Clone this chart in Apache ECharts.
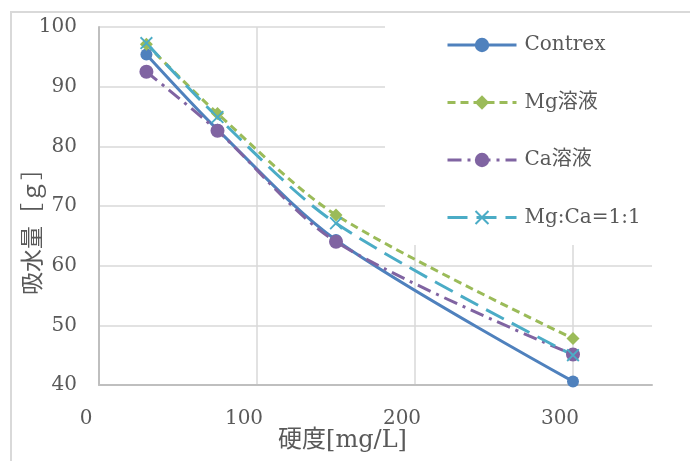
<!DOCTYPE html>
<html>
<head>
<meta charset="utf-8">
<script src="https://cdn.jsdelivr.net/npm/echarts@6/dist/echarts.min.js"></script>
<style>
  html, body { margin: 0; padding: 0; background: #fff; }
  #chart { width: 690px; height: 461px; }
</style>
</head>
<body>
<div id="chart"></div>
<script>
// 硬度 (mg/L) of each test solution
const hardness = [30, 75, 150, 300];

// 吸水量 (g) per solution
const contrex = [95.4, 82.8, 64.3, 40.6];
const mgSol   = [97.1, 85.5, 68.5, 47.8];
const caSol   = [92.5, 82.6, 64.0, 45.1];
const mgCa    = [97.3, 84.9, 67.1, 45.0];

const seriesNames = ['Contrex', 'Mg溶液', 'Ca溶液', 'Mg:Ca=1:1'];
const xTicks = [0, 100, 200, 300];

const serif = "'DejaVu Serif', 'Noto Sans CJK JP', serif";
const textGray = '#595959';

const pairs = (ys) => hardness.map((x, i) => [x, ys[i]]);

const crossPath = 'path://M0,1L1,0L5,4L9,0L10,1L6,5L10,9L9,10L5,6L1,10L0,9L4,5Z';

const chart = echarts.init(document.getElementById('chart'), null, { renderer: 'canvas' });

chart.setOption({
  backgroundColor: '#ffffff',
  animation: false,
  grid: { left: 99, top: 27, width: 553, height: 358 },
  xAxis: {
    type: 'value',
    min: 0,
    max: 350,
    interval: 100,
    name: '硬度[mg/L]',
    nameLocation: 'middle',
    nameGap: 44,
    nameMoveOverlap: false,
    nameTextStyle: { fontFamily: serif, fontSize: 24, color: textGray, padding: [0, 66, 0, 0] },
    axisLine: { show: true, lineStyle: { color: '#bfbfbf', width: 2 } },
    axisTick: { show: false, customValues: xTicks },
    axisLabel: {
      customValues: xTicks,
      fontFamily: serif, fontSize: 20, color: textGray, margin: 24,
      padding: [0, 26, 0, 0]
    },
    splitLine: { show: true, lineStyle: { color: '#d9d9d9', width: 1.5 } }
  },
  yAxis: {
    type: 'value',
    min: 40,
    max: 100,
    interval: 10,
    name: '吸水量［ｇ］',
    nameLocation: 'middle',
    nameGap: 53,
    nameMoveOverlap: false,
    nameTextStyle: { fontFamily: serif, fontSize: 23, color: textGray, padding: [0, 40, 0, 0] },
    axisLine: { show: true, lineStyle: { color: '#bfbfbf', width: 2 } },
    axisTick: { show: false },
    axisLabel: { fontFamily: serif, fontSize: 20, color: textGray, margin: 22 },
    splitLine: { show: true, lineStyle: { color: '#d9d9d9', width: 1.5 } }
  },
  legend: {
    orient: 'vertical',
    left: 446,
    top: 35,
    padding: 0,
    itemGap: 37.5,
    itemWidth: 69,
    itemHeight: 18,
    data: seriesNames,
    lineStyle: { width: 3 },
    textStyle: { fontFamily: serif, fontSize: 20, lineHeight: 20, color: textGray, padding: [0, 0, 0, 3] }
  },
  graphic: [
    {
      type: 'rect', z: 1, silent: true,
      shape: { x: 385, y: 14, width: 310, height: 231 },
      style: { fill: '#ffffff' }
    },
    {
      type: 'rect', z: 0, silent: true,
      shape: { x: 11, y: 12, width: 700, height: 500 },
      style: { fill: 'none', stroke: '#d9d9d9', lineWidth: 2 }
    }
  ],
  series: [
    {
      name: seriesNames[0], type: 'line', smooth: 0.3,
      data: pairs(contrex),
      symbol: 'circle', symbolSize: 12,
      itemStyle: { color: '#4F81BD' },
      lineStyle: { color: '#4F81BD', width: 3 }
    },
    {
      name: seriesNames[1], type: 'line', smooth: 0.3,
      data: pairs(mgSol),
      symbol: 'diamond', symbolSize: 13,
      itemStyle: { color: '#9BBB59' },
      lineStyle: { color: '#9BBB59', width: 3, type: [8, 5] }
    },
    {
      name: seriesNames[2], type: 'line', smooth: 0.3,
      data: pairs(caSol),
      symbol: 'circle', symbolSize: 14,
      itemStyle: { color: '#8064A2' },
      lineStyle: { color: '#8064A2', width: 3, type: [14, 6, 3, 6] }
    },
    {
      name: seriesNames[3], type: 'line', smooth: 0.3,
      data: pairs(mgCa),
      symbol: crossPath, symbolSize: 13,
      itemStyle: { color: '#4BACC6' },
      lineStyle: { color: '#4BACC6', width: 3, type: [20, 9] }
    }
  ]
});
</script>
</body>
</html>
